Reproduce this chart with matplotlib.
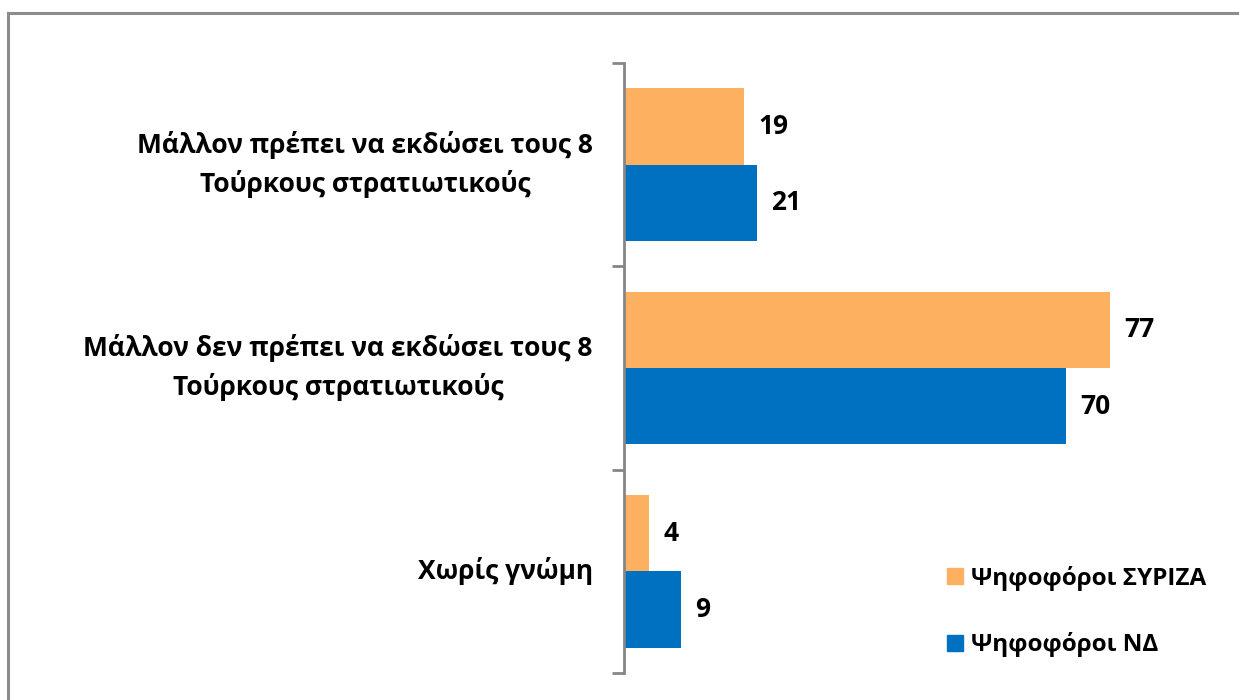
import matplotlib
matplotlib.use("Agg")
import matplotlib.pyplot as plt
from matplotlib.patches import Rectangle
from matplotlib.lines import Line2D
import numpy as np

plt.rcParams['font.family'] = ['Open Sans', 'DejaVu Sans']

categories = ["Μάλλον πρέπει να εκδώσει τους 8\nΤούρκους στρατιωτικούς",
              "Μάλλον δεν πρέπει να εκδώσει τους 8\nΤούρκους στρατιωτικούς",
              "Χωρίς γνώμη"]
series_names = ["Ψηφοφόροι ΣΥΡΙΖΑ", "Ψηφοφόροι ΝΔ"]
syriza = [19, 77, 4]
nd = [21, 70, 9]
colors = ["#FDB05F", "#0070C0"]

W, H = 1239, 700
fig = plt.figure(figsize=(W/100, H/100), dpi=100)

# outer frame (only left and top visible in the reference)
fig.add_artist(Line2D([8/W, 8/W], [0, 1 - 13/H], color="#8c8c8c", lw=2.2, transform=fig.transFigure))
fig.add_artist(Line2D([8/W, 1], [1 - 13/H, 1 - 13/H], color="#8c8c8c", lw=2.2, transform=fig.transFigure))

ax_left, ax_right = 624/W, 1192/W
ax_top, ax_bot = 1 - 63/H, 1 - 673/H
ax = fig.add_axes([ax_left, ax_bot, ax_right - ax_left, ax_top - ax_bot])

y = np.arange(len(categories))
h = 0.375
ax.barh(y - h/2, syriza, height=h, color=colors[0], label=series_names[0])
ax.barh(y + h/2, nd, height=h, color=colors[1], label=series_names[1])

ax.set_xlim(0, 90)
ax.set_ylim(len(categories) - 0.5, -0.5)

for i in range(len(categories)):
    ax.text(syriza[i] + 2.3, i - h/2, str(syriza[i]), va='center', ha='left',
            fontsize=19, fontweight='bold', color='black')
    ax.text(nd[i] + 2.3, i + h/2, str(nd[i]), va='center', ha='left',
            fontsize=19, fontweight='bold', color='black')

for s in ['top', 'right', 'bottom']:
    ax.spines[s].set_visible(False)
ax.spines['left'].set_color('#868686')
ax.spines['left'].set_linewidth(2)
ax.xaxis.set_visible(False)
ax.set_yticks(np.arange(-0.5, len(categories), 1.0))
ax.set_yticklabels([])
ax.tick_params(axis='y', length=9, width=2, color='#868686', direction='out')

for i, c in enumerate(categories):
    ax.text(-0.055, i, c, transform=ax.get_yaxis_transform(), ha='right', va='center',
            multialignment='center', fontsize=19, fontweight='bold', linespacing=1.5)

handles = [Rectangle((0, 0), 1, 1, color=colors[0]), Rectangle((0, 0), 1, 1, color=colors[1])]
fig.legend(handles, series_names, loc='upper left', bbox_to_anchor=(925/W, 1 - 544/H),
           frameon=False, prop={'weight': 'bold', 'size': 17.5},
           handlelength=0.65, handleheight=0.65, handletextpad=0.35, labelspacing=1.7)

fig.savefig("out.png", dpi=100)
